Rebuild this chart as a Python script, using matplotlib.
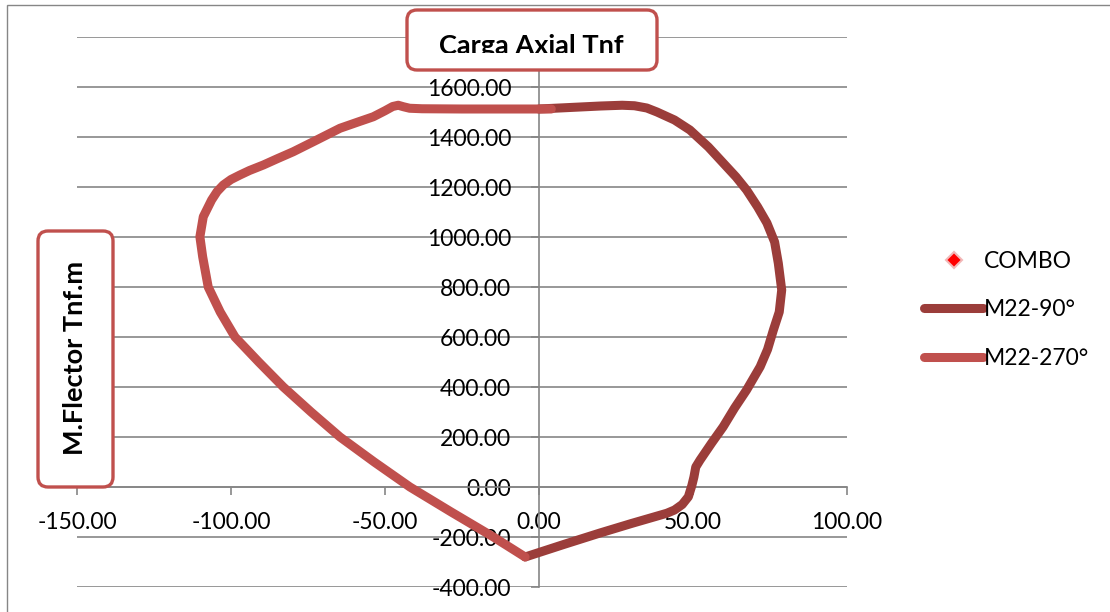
import matplotlib
matplotlib.use("Agg")
import matplotlib.pyplot as plt
from matplotlib.patches import FancyBboxPatch, Rectangle
from matplotlib.transforms import IdentityTransform, Bbox
from matplotlib.lines import Line2D

# Data (M.Flector Tnf.m, Carga Axial Tnf)
m22_90_x = [0, 10, 20, 27, 31, 35, 38.3, 44, 49, 55, 59.8, 64, 67.4, 71, 74, 76.5,
            77.7, 78.8, 78, 76.1, 74.2, 71.8, 67.4, 63.5, 59.8, 56, 52.3, 50.9,
            50.3, 49.6, 48.5, 46.5, 44, 41.5, 30, 19.8, 8, -4.5]
m22_90_y = [1512, 1518, 1524, 1527, 1525, 1516, 1500, 1468, 1428, 1360, 1296, 1240,
            1188, 1120, 1056, 980, 895, 788, 700, 628, 550, 481, 388, 316, 241,
            175, 108, 80, 40, 5, -39, -70, -92, -105, -146, -184, -230, -280]

m22_270_x = [4, -10, -25, -38, -42, -44, -45.7, -47.5, -50, -53.8, -59, -64.6, -72,
             -79.8, -85, -89.5, -94, -97.1, -100, -102.5, -104.5, -106.3, -109, -110.1,
             -109.2, -107.4, -103.5, -98.7, -91, -83, -74, -64.6, -53.5, -41.9, -28.5,
             -14.8, -4.5]
m22_270_y = [1512, 1512, 1512, 1513, 1515, 1521, 1527, 1522, 1505, 1481, 1459, 1435,
             1389, 1341, 1313, 1288, 1266, 1248, 1230, 1208, 1182, 1148, 1081, 1001,
             921, 800, 700, 600, 500, 400, 300, 200, 100, 0, -100, -200, -280]

combo_x = []
combo_y = []

x_ticks = [-150, -100, -50, 0, 50, 100]
y_ticks = [-400, -200, 0, 200, 400, 600, 800, 1000, 1200, 1400, 1600, 1800]

W, H = 1110, 612
FONT = "Lato"
GRID = "#868686"
RED_DARK = "#9B3D3A"
RED_LIGHT = "#C0504D"

plt.rcParams['font.family'] = [FONT, 'DejaVu Sans']

fig = plt.figure(figsize=(W / 100, H / 100), dpi=100)
ax = fig.add_axes([77 / W, 1 - 587 / H, 770 / W, 550 / H])

# outer chart border
fig.patches.append(Rectangle((7, -20), W + 40, H - 5 + 20, transform=IdentityTransform(),
                             fill=False, edgecolor=GRID, linewidth=1.0))

ax.plot(m22_90_x, m22_90_y, color=RED_DARK, lw=6.5, solid_capstyle='round',
        solid_joinstyle='round', label="M22-90°", zorder=3)
ax.plot(m22_270_x, m22_270_y, color=RED_LIGHT, lw=6.5, solid_capstyle='round',
        solid_joinstyle='round', label="M22-270°", zorder=4)
ax.plot(combo_x, combo_y, 'D', color='#FF0000', markersize=8, mec='#F2B8B8', mew=1.5,
        label="COMBO", zorder=5)

ax.set_xlim(-150, 100)
ax.set_ylim(-400, 1800)
ax.set_xticks(x_ticks)
ax.set_yticks(y_ticks)
ax.set_xticklabels([f"{v:.2f}" for v in x_ticks])
ax.set_yticklabels([f"{v:.2f}" if v < 1800 else "" for v in y_ticks])

for s in ['top', 'right']:
    ax.spines[s].set_visible(False)
ax.spines['left'].set_position(('data', 0))
ax.spines['bottom'].set_position(('data', 0))
for s in ['left', 'bottom']:
    ax.spines[s].set_color(GRID)
    ax.spines[s].set_linewidth(1.2)
    ax.spines[s].set_zorder(1)

ax.yaxis.grid(True, color=GRID, lw=1.2, zorder=0)
ax.set_axisbelow(True)
ax.tick_params(axis='y', direction='out', length=6, width=1.2, color=GRID, pad=14,
               labelsize=16.5)
ax.tick_params(axis='x', direction='out', length=6, width=1.2, color=GRID, pad=12,
               labelsize=16.5)
ax.patch.set_visible(False)

# title box (text is cut at the bottom like in the original)
fig.patches.append(FancyBboxPatch((407, H - 70), 250, 60, boxstyle="round,pad=0,rounding_size=10",
                                  transform=IdentityTransform(), facecolor='white',
                                  edgecolor=RED_LIGHT, linewidth=2.4, zorder=5))
t = fig.text(531 / W, 1 - 54 / H, "Carga Axial Tnf", ha='center', va='baseline',
             fontsize=19.5, fontweight='bold', zorder=6)
t.set_clip_box(Bbox([[407, H - 53], [657, H - 12]]))
t.set_clip_on(True)

# y label box
fig.patches.append(FancyBboxPatch((38, H - 487), 75, 256, boxstyle="round,pad=0,rounding_size=10",
                                  transform=IdentityTransform(), facecolor='white',
                                  edgecolor=RED_LIGHT, linewidth=2.4, zorder=5))
fig.text(75 / W, 1 - 358 / H, "M.Flector Tnf.m", ha='center', va='center', rotation=90,
         fontsize=19.5, fontweight='bold', zorder=6)

# legend
handles = [
    Line2D([], [], marker='D', ls='none', color='#FF0000', markersize=8, mec='#F2B8B8', mew=1.5),
    Line2D([], [], color=RED_DARK, lw=6.5, solid_capstyle='round'),
    Line2D([], [], color=RED_LIGHT, lw=6.5, solid_capstyle='round'),
]
fig.legend(handles, ["COMBO", "M22-90°", "M22-270°"], loc='center left',
           bbox_to_anchor=(913 / W, 1 - 310 / H), frameon=False, fontsize=16.5,
           handlelength=2.55, handletextpad=0.05, labelspacing=1.2, borderpad=0)

fig.savefig("out.png", dpi=100)
